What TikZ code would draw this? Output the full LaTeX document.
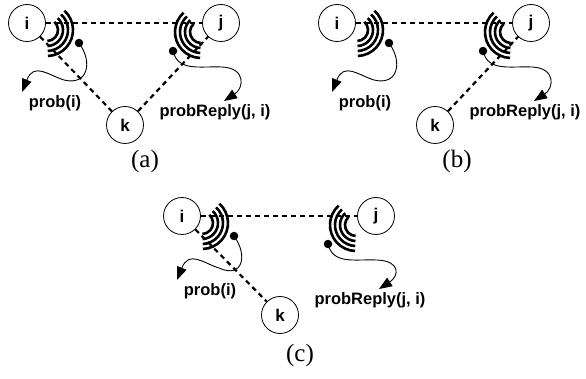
\documentclass[tikz,border=0pt]{standalone}
\usepackage{fontspec}
\setmainfont{Liberation Serif}
\setsansfont{Liberation Sans}
\usetikzlibrary{arrows.meta}

\tikzset{
  host/.style = {draw, circle, line width=0.8pt, minimum size=37pt, inner sep=0pt,
                 font=\fontsize{17}{19}\selectfont\sffamily\bfseries},
  link/.style = {line width=2.2pt, dash pattern=on 5pt off 4pt},
  wave/.style = {line width=2.6pt},
  probe/.style = {circle, fill, inner sep=0pt, minimum size=8.5pt},
  msg/.style = {line width=0.9pt, -{Triangle[length=13pt,width=10pt]}},
  tag/.style = {font=\fontsize{16.5}{18}\selectfont\sffamily\bfseries, inner sep=1pt},
  caption/.style = {font=\fontsize{25}{27}\selectfont}
}

% i and j with their radio waves and messages; #1 = suffix, #2 = lift of the labels
\newcommand{\radiopair}[2]{%
  \node[host] (i#1) at (27,23) {i};
  \node[host] (j#1) at (221,23) {j};
  \draw[link] (i#1) -- (j#1);
  \foreach \r in {11,16,21,26} {
    \draw[wave] (47,30) ++(48:\r pt) arc[start angle=48, end angle=-88, radius=\r pt];
    \draw[wave] (201,32) ++(132:\r pt) arc[start angle=132, end angle=268, radius=\r pt];
  }
  \node[probe] (pi#1) at (79,43) {};
  \node[probe] (pj#1) at (173,51) {};
  \coordinate (ti#1) at (22,{92-#2});
  \coordinate (tj#1) at (224,{101-#2});
  \draw[msg] (pi#1.center) .. controls (93,62) and (88,86) .. (64,{80-#2})
             .. controls (48,{75-#2}) and (34,{62-#2}) .. (ti#1);
  \draw[msg] (pj#1.center) .. controls (178,72) and (200,66) .. (222,67)
             .. controls (246,68) and (244,{88-#2}) .. (tj#1);
  \node[tag] (li#1) at (55,{103-#2}) {prob(i)};
  \node[tag] (lj#1) at (215,{112-#2}) {probReply(j, i)};
}

\begin{document}
\begin{tikzpicture}[x=1pt, y=-1pt]
  \useasboundingbox (0,0) rectangle (586,379);

  % (a)
  \begin{scope}
    \radiopair{a}{0}
    \node[host] (ka) at (125,125) {k};
    \draw[link] (ia) -- (ka);
    \draw[link] (ka) -- (ja);
    \node[caption] (capa) at (145,161) {(a)};
  \end{scope}

  % (b)
  \begin{scope}[shift={(310,0)}]
    \radiopair{b}{0}
    \node[host] (kb) at (125,125) {k};
    \draw[link] (kb) -- (jb);
    \node[caption] (capb) at (147,161) {(b)};
  \end{scope}

  % (c)
  \begin{scope}[shift={(155,193)}]
    \radiopair{c}{5}
    \node[host] (kc) at (125,122) {k};
    \draw[link] (ic) -- (kc);
    \node[caption] (capc) at (145,162) {(c)};
  \end{scope}
\end{tikzpicture}
\end{document}
